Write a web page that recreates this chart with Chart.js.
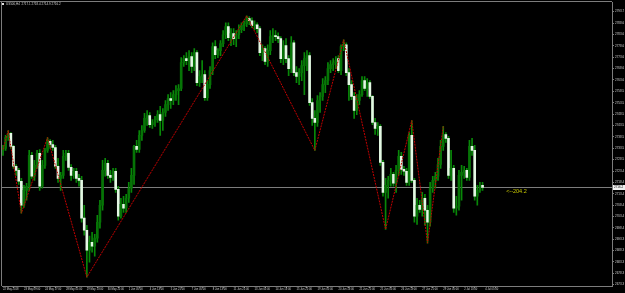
<!DOCTYPE html>
<html>
<head>
<meta charset="utf-8">
<script src="https://cdn.jsdelivr.net/npm/chart.js@4.4.1/dist/chart.umd.min.js"></script>
<style>
  html, body { margin: 0; padding: 0; background: #000; }
  #wrap { width: 625px; height: 293px; position: relative; }
</style>
</head>
<body>
<div id="wrap"><canvas id="chart"></canvas></div>
<script>
// US500 H4 candles, 22 May - 4 Jul 2018
const symbolName = 'US500,H4';

const timeLabels = ['22 May 2018', '23 May 09:00', '24 May 17:00', '28 May 01:00', '29 May 13:00', '30 May 21:00',
  '1 Jun 05:00', '4 Jun 13:00', '5 Jun 21:00', '7 Jun 05:00', '8 Jun 13:00', '11 Jun 21:00', '13 Jun 05:00',
  '14 Jun 13:00', '15 Jun 21:00', '19 Jun 05:00', '20 Jun 13:00', '21 Jun 21:00', '25 Jun 05:00', '26 Jun 13:00',
  '27 Jun 21:00', '29 Jun 05:00', '2 Jul 13:00', '4 Jul 05:00'];
const timeLabelBars = [0, 8, 16, 24, 32, 40, 48, 56, 64, 72, 80, 88, 96, 104, 112, 120, 128, 136, 144, 152, 160, 168, 176, 184];

const opens = [
  2732.5, 2733.4, 2738.2, 2740.0, 2734.3, 2725.5, 2723.7, 2718.9,
  2708.3, 2714.9, 2716.7, 2730.3, 2721.1, 2725.9, 2731.2, 2716.7,
  2725.9, 2732.5, 2736.5, 2735.1, 2733.8, 2725.5, 2720.2, 2721.5,
  2729.9, 2731.2, 2725.0, 2721.5, 2723.3, 2720.2, 2719.3, 2702.6,
  2697.3, 2688.5, 2692.0, 2690.3, 2693.8, 2700.8, 2708.3, 2723.7,
  2726.8, 2721.5, 2720.6, 2723.3, 2715.3, 2703.5, 2708.7, 2707.0,
  2711.4, 2715.8, 2721.5, 2734.3, 2732.9, 2739.1, 2741.3, 2746.6,
  2747.9, 2743.9, 2744.8, 2746.1, 2748.3, 2745.7, 2749.2, 2752.7,
  2755.4, 2754.5, 2757.1, 2758.9, 2759.8, 2771.2, 2773.0, 2772.1,
  2773.9, 2769.5, 2775.6, 2762.4, 2765.1, 2765.9, 2755.8, 2761.5,
  2767.7, 2778.3, 2774.7, 2776.5, 2779.6, 2783.5, 2787.1, 2782.2,
  2784.0, 2781.8, 2783.5, 2785.7, 2787.5, 2788.4, 2790.6, 2789.7,
  2787.5, 2787.9, 2786.2, 2775.6, 2777.4, 2771.7, 2776.5, 2782.7,
  2783.1, 2782.7, 2781.8, 2773.0, 2778.7, 2773.0, 2768.6, 2780.0,
  2766.8, 2765.1, 2766.8, 2769.9, 2773.0, 2774.3, 2753.6, 2746.6,
  2744.8, 2754.5, 2756.3, 2761.5, 2763.3, 2768.6, 2770.3, 2771.2,
  2773.0, 2767.7, 2778.3, 2779.1, 2766.8, 2761.5, 2756.3, 2750.1,
  2754.5, 2757.1, 2763.3, 2759.8, 2762.4, 2756.3, 2744.8, 2742.2,
  2743.1, 2727.2, 2714.0, 2717.1, 2719.3, 2721.9, 2718.0, 2723.7,
  2729.9, 2724.1, 2723.3, 2718.4, 2739.1, 2719.3, 2703.5, 2708.3,
  2706.5, 2711.4, 2706.1, 2700.8, 2715.8, 2719.3, 2721.1, 2726.3,
  2734.3, 2739.5, 2737.8, 2721.5, 2724.6, 2707.0, 2707.9, 2721.5,
  2722.8, 2723.7, 2720.6, 2734.3, 2732.5, 2712.3, 2714.9, 2717.1
];
const highs = [
  2734.7, 2739.1, 2741.3, 2740.4, 2734.7, 2726.3, 2724.6, 2720.2,
  2717.1, 2718.0, 2732.5, 2731.6, 2728.1, 2732.5, 2732.9, 2728.1,
  2733.4, 2738.2, 2737.3, 2736.9, 2734.7, 2729.0, 2722.8, 2732.5,
  2732.5, 2732.5, 2726.3, 2724.6, 2724.6, 2721.9, 2721.1, 2708.3,
  2699.5, 2694.7, 2696.4, 2695.5, 2703.9, 2710.5, 2728.1, 2729.0,
  2728.1, 2723.7, 2724.6, 2724.6, 2716.7, 2711.4, 2712.3, 2713.1,
  2718.4, 2724.6, 2734.7, 2736.9, 2741.3, 2743.5, 2748.8, 2750.1,
  2749.2, 2746.1, 2747.5, 2750.1, 2751.9, 2751.0, 2754.5, 2757.1,
  2758.0, 2758.9, 2761.1, 2761.5, 2773.4, 2774.3, 2775.6, 2776.5,
  2775.6, 2777.4, 2776.5, 2767.7, 2772.1, 2767.7, 2763.3, 2769.5,
  2780.0, 2780.9, 2777.4, 2780.9, 2785.3, 2788.8, 2788.8, 2786.2,
  2786.2, 2785.3, 2787.9, 2788.8, 2789.7, 2791.9, 2791.5, 2791.0,
  2789.7, 2788.8, 2787.1, 2779.1, 2778.3, 2779.1, 2785.3, 2786.2,
  2785.3, 2784.4, 2782.7, 2780.9, 2781.8, 2774.3, 2782.7, 2780.9,
  2769.5, 2768.6, 2772.1, 2775.6, 2776.5, 2775.6, 2755.4, 2750.1,
  2756.7, 2758.0, 2764.2, 2765.1, 2771.2, 2772.1, 2773.0, 2773.9,
  2774.3, 2779.1, 2781.3, 2780.0, 2768.6, 2763.3, 2758.0, 2757.1,
  2758.9, 2765.1, 2765.1, 2764.2, 2763.3, 2756.7, 2746.6, 2744.8,
  2743.9, 2728.1, 2720.2, 2721.1, 2724.6, 2722.8, 2725.9, 2732.5,
  2731.6, 2725.5, 2724.6, 2740.4, 2745.7, 2720.2, 2711.4, 2710.5,
  2714.0, 2713.1, 2708.3, 2718.4, 2721.1, 2722.8, 2729.0, 2736.9,
  2743.1, 2740.4, 2738.7, 2732.5, 2725.9, 2712.3, 2723.7, 2725.9,
  2725.5, 2724.6, 2736.9, 2737.8, 2734.7, 2717.1, 2718.4, 2718.4
];
const lows = [
  2730.3, 2732.5, 2736.9, 2733.4, 2724.6, 2721.5, 2717.5, 2704.8,
  2707.4, 2710.5, 2714.9, 2720.2, 2719.3, 2724.6, 2714.9, 2715.8,
  2724.6, 2731.6, 2733.4, 2732.5, 2724.6, 2718.4, 2714.9, 2720.2,
  2728.1, 2723.7, 2719.3, 2720.2, 2718.4, 2716.7, 2700.8, 2695.1,
  2676.6, 2683.2, 2687.6, 2685.9, 2692.0, 2698.2, 2706.1, 2721.1,
  2720.2, 2718.4, 2719.3, 2714.0, 2701.7, 2702.6, 2705.2, 2705.2,
  2709.6, 2714.0, 2717.5, 2731.6, 2731.6, 2736.9, 2740.4, 2743.5,
  2742.6, 2742.2, 2743.1, 2744.8, 2739.1, 2741.3, 2747.5, 2750.1,
  2751.0, 2752.7, 2754.5, 2752.7, 2758.9, 2769.5, 2770.3, 2767.7,
  2766.8, 2767.7, 2761.1, 2760.7, 2762.4, 2754.5, 2754.5, 2759.8,
  2765.9, 2773.0, 2773.4, 2774.3, 2778.3, 2781.8, 2780.9, 2778.7,
  2779.1, 2778.3, 2781.8, 2784.4, 2785.3, 2787.1, 2787.9, 2786.6,
  2785.7, 2784.4, 2774.3, 2772.1, 2770.3, 2769.5, 2774.7, 2780.0,
  2780.9, 2780.0, 2771.2, 2770.3, 2771.2, 2765.5, 2766.8, 2765.5,
  2762.4, 2761.5, 2763.3, 2757.1, 2767.7, 2752.3, 2743.5, 2732.5,
  2743.1, 2749.2, 2754.5, 2758.0, 2761.5, 2766.8, 2767.7, 2768.6,
  2766.8, 2765.9, 2776.5, 2765.5, 2754.5, 2754.9, 2746.6, 2748.3,
  2752.7, 2756.3, 2758.9, 2756.3, 2755.4, 2743.9, 2739.5, 2739.1,
  2725.9, 2712.3, 2697.7, 2711.4, 2716.7, 2716.7, 2714.0, 2721.5,
  2721.9, 2721.5, 2717.1, 2717.1, 2718.4, 2700.8, 2699.9, 2705.2,
  2703.5, 2699.5, 2691.6, 2699.1, 2714.0, 2715.8, 2719.3, 2724.6,
  2732.5, 2736.0, 2720.2, 2719.3, 2705.2, 2703.9, 2706.1, 2710.5,
  2720.2, 2719.3, 2719.3, 2730.3, 2710.5, 2708.3, 2714.0, 2714.9
];
const closes = [
  2733.4, 2738.2, 2740.0, 2734.3, 2725.5, 2723.7, 2718.9, 2708.3,
  2714.9, 2716.7, 2730.3, 2721.1, 2725.9, 2731.2, 2716.7, 2725.9,
  2732.5, 2736.5, 2735.1, 2733.8, 2725.5, 2720.2, 2721.5, 2729.9,
  2731.2, 2725.0, 2721.5, 2723.3, 2720.2, 2719.3, 2702.6, 2697.3,
  2688.5, 2692.0, 2690.3, 2693.8, 2700.8, 2708.3, 2723.7, 2726.8,
  2721.5, 2720.6, 2723.3, 2715.3, 2703.5, 2708.7, 2707.0, 2711.4,
  2715.8, 2721.5, 2734.3, 2732.9, 2739.1, 2741.3, 2746.6, 2747.9,
  2743.9, 2744.8, 2746.1, 2748.3, 2745.7, 2749.2, 2752.7, 2755.4,
  2754.5, 2757.1, 2758.9, 2759.8, 2771.2, 2773.0, 2772.1, 2773.9,
  2769.5, 2775.6, 2762.4, 2765.1, 2765.9, 2755.8, 2761.5, 2767.7,
  2778.3, 2774.7, 2776.5, 2779.6, 2783.5, 2787.1, 2782.2, 2784.0,
  2781.8, 2783.5, 2785.7, 2787.5, 2788.4, 2790.6, 2789.7, 2787.5,
  2787.9, 2786.2, 2775.6, 2777.4, 2771.7, 2776.5, 2782.7, 2783.1,
  2782.7, 2781.8, 2773.0, 2778.7, 2773.0, 2768.6, 2780.0, 2766.8,
  2765.1, 2766.8, 2769.9, 2773.0, 2774.3, 2753.6, 2746.6, 2744.8,
  2754.5, 2756.3, 2761.5, 2763.3, 2768.6, 2770.3, 2771.2, 2772.1,
  2767.7, 2778.3, 2779.1, 2766.8, 2761.5, 2756.3, 2750.1, 2754.5,
  2757.1, 2763.3, 2759.8, 2762.4, 2756.3, 2744.8, 2742.2, 2743.1,
  2727.2, 2714.0, 2717.1, 2719.3, 2721.9, 2718.0, 2723.7, 2729.9,
  2724.1, 2723.3, 2718.4, 2739.1, 2719.3, 2703.5, 2708.3, 2706.5,
  2711.4, 2706.1, 2700.8, 2715.8, 2719.3, 2721.1, 2726.3, 2734.3,
  2739.5, 2737.8, 2721.5, 2724.6, 2707.0, 2707.9, 2721.5, 2722.8,
  2723.7, 2720.6, 2734.3, 2732.5, 2712.3, 2714.9, 2717.1, 2716.2
];

// ZigZag turning points (bar index, price)
const zigzagBars = [0, 2, 7, 17, 32, 93, 119, 130, 146, 156, 162, 168];
const zigzagPrices = [2732.9, 2741.3, 2704.8, 2738.2, 2676.6, 2791.9, 2732.5, 2781.3, 2697.7, 2745.7, 2691.6, 2743.1];

const priceTicks = [2793.7, 2788.6, 2783.6, 2778.6, 2773.6, 2768.6, 2763.6, 2758.5, 2753.5, 2748.5, 2743.5,
  2738.5, 2733.5, 2728.5, 2723.4, 2718.4, 2713.4, 2708.4, 2703.4, 2698.4, 2693.3, 2688.3, 2683.3, 2678.3, 2673.3];

const currentPrice = 2716.2;
const noteBar = 192;
const noteText = '<--204.2';

const last = closes.length - 1;
const titleText = symbolName + '  ' + [opens[last], highs[last], lows[last], closes[last]].map(v => v.toFixed(1)).join(' ');

const wickData = highs.map((h, i) => ({ x: i, y: [lows[i], h] }));
const bodyData = opens.map((o, i) => ({ x: i, y: [o, closes[i]] }));
const bodyColors = opens.map((o, i) => closes[i] >= o ? '#067406' : '#e4f8e4');
const zigzagData = zigzagBars.map((b, i) => ({ x: b, y: zigzagPrices[i] }));

const axisGray = '#7c7c7c';
const textGray = '#d0d0d0';

const overlay = {
  id: 'overlay',
  beforeDatasetsDraw(chart) {
    const { ctx, chartArea: a, scales: { y } } = chart;
    const py = Math.round(y.getPixelForValue(currentPrice)) + 0.5;
    ctx.save();
    ctx.strokeStyle = axisGray;
    ctx.lineWidth = 1;
    ctx.beginPath();
    ctx.moveTo(a.left, py);
    ctx.lineTo(a.right, py);
    ctx.stroke();
    ctx.restore();
  },
  afterDraw(chart) {
    const { ctx, chartArea: a, scales: { x, y } } = chart;
    ctx.save();
    // frame top / left
    ctx.strokeStyle = axisGray;
    ctx.lineWidth = 1;
    ctx.beginPath();
    ctx.moveTo(0, 1.5); ctx.lineTo(a.right, 1.5);
    ctx.moveTo(1.5, 1); ctx.lineTo(1.5, a.bottom);
    ctx.stroke();

    // title
    ctx.fillStyle = '#e0e0e0';
    ctx.fillRect(2, 3, 2, 2);
    ctx.fillStyle = textGray;
    ctx.font = '3px "Liberation Sans"';
    ctx.textBaseline = 'middle';
    ctx.textAlign = 'left';
    ctx.fillText(titleText, 6, 4);

    // current price box
    const py = Math.round(y.getPixelForValue(currentPrice)) + 0.5;
    ctx.fillStyle = '#f0f0f0';
    ctx.fillRect(a.right + 1, py - 2.5, 12, 5);
    ctx.fillStyle = '#000';
    ctx.fillText(currentPrice.toFixed(1), a.right + 2, py);

    // distance note
    ctx.fillStyle = '#c8c800';
    ctx.font = '5.5px "Liberation Sans"';
    ctx.fillText(noteText, x.getPixelForValue(noteBar), py + 3.5);
    ctx.restore();
  }
};

new Chart(document.getElementById('chart'), {
  type: 'bar',
  data: {
    datasets: [
      {
        type: 'line',
        data: zigzagData,
        borderColor: '#c40000',
        borderWidth: 1,
        borderDash: [2, 1],
        pointRadius: 0,
        tension: 0,
        order: 0
      },
      {
        data: bodyData,
        backgroundColor: bodyColors,
        barThickness: 2,
        minBarLength: 1,
        grouped: false,
        order: 1
      },
      {
        data: wickData,
        backgroundColor: '#088808',
        barThickness: 1,
        grouped: false,
        order: 2
      }
    ]
  },
  options: {
    responsive: true,
    maintainAspectRatio: false,
    animation: false,
    layout: { padding: { left: 2, top: 2, right: 0, bottom: 0 } },
    plugins: { legend: { display: false }, tooltip: { enabled: false } },
    scales: {
      x: {
        type: 'linear',
        min: -0.38,
        max: 232.4,
        offset: false,
        afterBuildTicks: s => { s.ticks = timeLabelBars.map(v => ({ value: v })); },
        afterFit: s => { s.height = 7; },
        grid: { display: true, drawOnChartArea: false, tickLength: 2, color: axisGray },
        border: { display: true, color: axisGray },
        ticks: {
          autoSkip: false,
          maxRotation: 0,
          align: 'start',
          padding: 0,
          color: textGray,
          font: { family: 'Liberation Sans', size: 2.7 },
          callback: (v, i) => timeLabels[i]
        }
      },
      y: {
        type: 'linear',
        position: 'right',
        min: 2672.7,
        max: 2797.6,
        afterBuildTicks: s => { s.ticks = priceTicks.map(v => ({ value: v })); },
        afterFit: s => { s.width = 13; },
        grid: { display: true, drawOnChartArea: false, tickLength: 2, color: axisGray },
        border: { display: true, color: axisGray },
        ticks: {
          padding: 1,
          color: textGray,
          font: { family: 'Liberation Sans', size: 3 },
          callback: v => v.toFixed(1)
        }
      }
    }
  },
  plugins: [overlay]
});
</script>
</body>
</html>
